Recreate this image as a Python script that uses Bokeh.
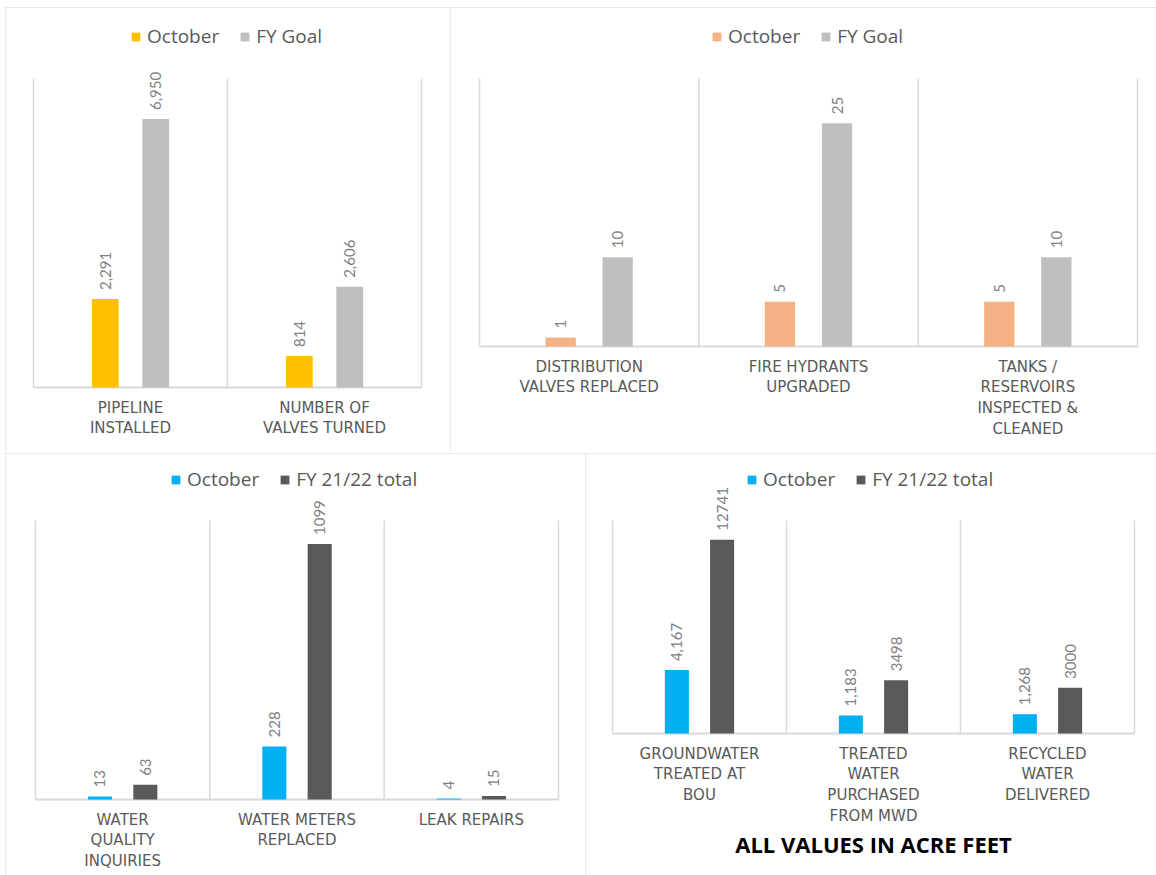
import math
from bokeh.plotting import figure
from bokeh.models import (ColumnDataSource, Legend, LegendItem, Range1d, LabelSet, Label)
from bokeh.layouts import row, column
from bokeh.embed import file_html
from bokeh.resources import INLINE
from bokeh.core.properties import value

# ---------------- data ----------------
p1_categories = ["PIPELINE\nINSTALLED", "NUMBER OF\nVALVES TURNED"]
p1_october = [2291, 814]
p1_goal = [6950, 2606]

p2_categories = ["DISTRIBUTION\nVALVES REPLACED", "FIRE HYDRANTS\nUPGRADED",
                 "TANKS /\nRESERVOIRS\nINSPECTED &\nCLEANED"]
p2_october = [1, 5, 5]
p2_goal = [10, 25, 10]

p3_categories = ["WATER\nQUALITY\nINQUIRIES", "WATER METERS\nREPLACED", "LEAK REPAIRS"]
p3_october = [13, 228, 4]
p3_total = [63, 1099, 15]

p4_categories = ["GROUNDWATER\nTREATED AT\nBOU", "TREATED\nWATER\nPURCHASED\nFROM MWD",
                 "RECYCLED\nWATER\nDELIVERED"]
p4_october = [4167, 1183, 1268]
p4_total = [12741, 3498, 3000]

series_top = ["October", "FY Goal"]
series_bottom = ["October", "FY 21/22 total"]
footnote = "ALL VALUES IN ACRE FEET"

GRID = "#d9d9d9"
LABEL = "#595959"
DATA_LABEL = "#7f7f7f"


def fmt(v, comma):
    return f"{v:,}" if comma else str(v)


def make_panel(W, H, x_l, x_r, y_t, y_b, cats, s1, s2, names, colors, commas, ymax,
               leg_x, leg_cy, margin):
    """Frame fills the whole figure; plot area spans x_l..x_r, y_t..y_b (px)."""
    n = len(cats)
    ux = n / (x_r - x_l)            # data units per px (x)
    uy = ymax / (y_b - y_t)         # data units per px (y)
    x_range = Range1d(0.5 - x_l * ux, n + 0.5 + (W - x_r) * ux)
    y_range = Range1d(-(H - y_b) * uy, ymax + y_t * uy)
    p = figure(width=W, height=H, x_range=x_range, y_range=y_range,
               toolbar_location=None, output_backend="svg",
               x_axis_location=None, y_axis_location=None,
               min_border_left=0, min_border_right=0, min_border_top=0,
               min_border_bottom=0)
    p.margin = margin
    p.styles = {"outline": "2px solid #d4d4d4", "outline-offset": "-2px"}
    p.outline_line_color = None
    p.xgrid.visible = False
    p.ygrid.visible = False
    p.background_fill_color = "white"
    p.border_fill_color = "white"

    # category separators (vertical gridlines) and baseline
    seps = [i + 0.5 for i in range(n + 1)]
    p.segment(x0=seps, y0=[0] * len(seps), x1=seps, y1=[ymax] * len(seps),
              line_color=GRID, line_width=1.5)
    p.segment(x0=[0.5], y0=[0], x1=[n + 0.5], y1=[0], line_color=GRID, line_width=2)

    xs = [i + 1 for i in range(n)]
    src1 = ColumnDataSource(dict(x=[x - 0.13 for x in xs], top=s1,
                                 lab=[fmt(v, commas[0]) for v in s1]))
    src2 = ColumnDataSource(dict(x=[x + 0.13 for x in xs], top=s2,
                                 lab=[fmt(v, commas[1]) for v in s2]))
    r1 = p.vbar(x="x", top="top", width=0.138, source=src1, fill_color=colors[0],
                line_color=None)
    r2 = p.vbar(x="x", top="top", width=0.138, source=src2, fill_color=colors[1],
                line_color=None)

    for src in (src1, src2):
        p.add_layout(LabelSet(x="x", y="top", text="lab", source=src, angle=math.pi / 2,
                              text_align="left", text_baseline="middle", y_offset=9,
                              text_font=value("Lato"), text_font_size="15px",
                              text_color=DATA_LABEL))

    # category labels under the baseline
    csrc = ColumnDataSource(dict(x=xs, y=[0] * n, t=cats))
    p.text(x="x", y="y", text="t", source=csrc, text_align="center",
           text_baseline="top", y_offset=11, text_font=value("DejaVu Sans"),
           text_font_size="15px", text_color=LABEL, text_line_height=1.15)

    legend = Legend(items=[LegendItem(label=names[0], renderers=[r1]),
                           LegendItem(label=names[1], renderers=[r2])],
                    orientation="horizontal", location=(leg_x, H - leg_cy - 12),
                    glyph_width=11, glyph_height=11, label_text_font="Open Sans",
                    label_text_font_size="19px", label_text_color=LABEL,
                    spacing=20, label_standoff=6, padding=0, margin=0,
                    border_line_color=None, background_fill_alpha=0,
                    label_height=20)
    p.add_layout(legend)
    return p


p1 = make_panel(445, 444, 28, 416, 71, 380, p1_categories, p1_october, p1_goal,
                series_top, ["#FFC000", "#BFBFBF"], [True, True], 8000, 125, 30,
                (7, 0, 0, 5))
p2 = make_panel(706, 444, 29, 687, 71, 339, p2_categories, p2_october, p2_goal,
                series_top, ["#F4B183", "#BFBFBF"], [True, True], 30, 261, 30,
                (7, 0, 0, 0))
p3 = make_panel(580, 422, 30, 553, 67, 346, p3_categories, p3_october, p3_total,
                series_bottom, ["#00B0F0", "#595959"], [True, False], 1200, 165, 27,
                (2, 0, 0, 5))
p4 = make_panel(571, 422, 27, 549, 67, 280, p4_categories, p4_october, p4_total,
                series_bottom, ["#00B0F0", "#595959"], [True, False], 14000, 161, 27,
                (2, 0, 0, 0))
p4.add_layout(Label(x=(len(p4_categories) + 1) / 2, y=0, y_offset=-110, text=footnote,
                    text_align="center", text_baseline="middle", text_font="Open Sans",
                    text_font_size="22px", text_font_style="bold", text_color="black"))

layout = column(row(p1, p2, spacing=0), row(p3, p4, spacing=0), spacing=0)
open("out.html", "w").write(file_html(layout, INLINE))
